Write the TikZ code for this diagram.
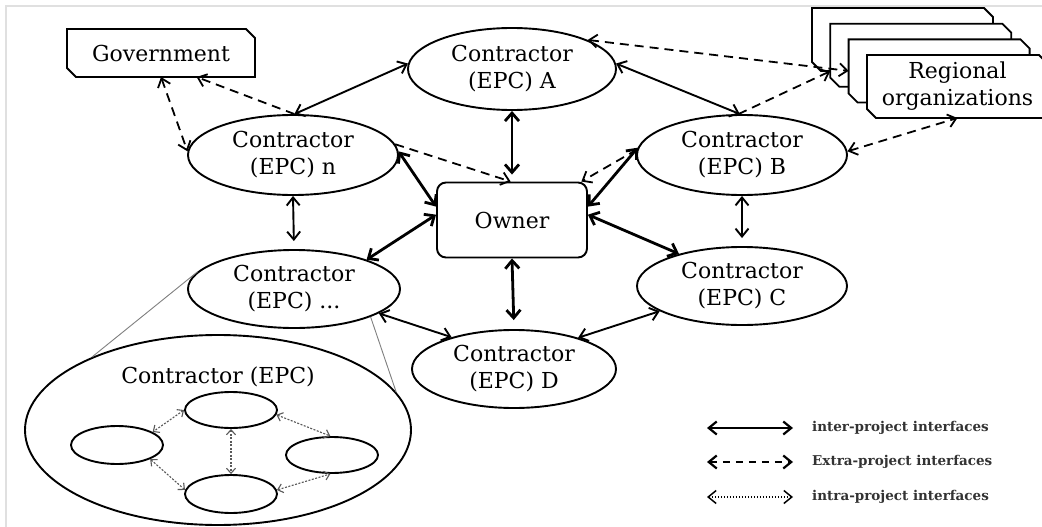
\documentclass[tikz,border=0pt]{standalone}
\usepackage{fontspec}
\setmainfont{DejaVu Serif}
\usetikzlibrary{arrows.meta,shapes.geometric}

% outline of a box with its top-right and bottom-left corners cut off
\newcommand\cutcornerbox[2][]{%
  \draw[line width=1.8pt,#1] (#2.north west) -- ([xshift=-9pt]#2.north east)
    -- ([yshift=-9pt]#2.north east) -- (#2.south east)
    -- ([xshift=9pt]#2.south west) -- ([yshift=9pt]#2.south west) -- cycle;}

\begin{document}
\begin{tikzpicture}[x=1pt,y=-1pt,
  font=\fontsize{22}{27}\selectfont,
  >={Straight Barb[length=8pt,width=13pt]},
  epc/.style={ellipse, draw, line width=1.9pt, inner sep=0pt, align=center},
  ownerbox/.style={rectangle, rounded corners=9pt, draw, line width=1.9pt,
    minimum width=150pt, minimum height=75pt, inner sep=0pt},
  orgbox/.style={rectangle, inner sep=0pt, outer sep=0pt, align=center},
  unit/.style={ellipse, draw, line width=1.9pt, inner sep=0pt, minimum width=92pt},
  inter/.style={line width=1.9pt, <->},
  interthick/.style={line width=2.8pt, <->, >={Straight Barb[length=8pt,width=14pt]}},
  extra/.style={line width=1.8pt, dash pattern=on 9pt off 6pt},
  intra/.style={line width=1.1pt, black!65, dash pattern=on 2pt off 1.5pt, <->,
    >={Straight Barb[length=5pt,width=9pt]}},
  zoomline/.style={line width=0.9pt, black!50},
  legtext/.style={anchor=west, inner sep=0pt, font=\fontsize{13.5}{16}\selectfont\bfseries, text=black!80},
  legarrow/.style={line width=2.2pt, <->, >={Straight Barb[length=8pt,width=13pt]}}
]
\useasboundingbox (0,0) rectangle (1042,527);
\fill[white] (0,0) rectangle (1042,527);
% thin frame along the top and left
\draw[black!12, line width=1.5pt] (6,527) -- (6,6) -- (1042,6);

% outside parties
\node[orgbox, minimum width=188pt, minimum height=48pt] (gov) at (161,53) {Government};
\cutcornerbox[fill=none]{gov}
\node[orgbox, minimum width=181pt, minimum height=63pt] (r4) at (902.5,39.5) {};
\cutcornerbox[fill=white]{r4}
\node[orgbox, minimum width=181pt, minimum height=63pt] (r3) at (920.8,55.2) {};
\cutcornerbox[fill=white]{r3}
\node[orgbox, minimum width=181pt, minimum height=63pt] (r2) at (939.1,70.9) {};
\cutcornerbox[fill=white]{r2}
\node[orgbox, minimum width=181pt, minimum height=63pt] (r1) at (957.5,86.5) {};
\cutcornerbox[fill=white]{r1}
\node[orgbox] (r1text) at (r1.center) {Regional\\organizations};

% contractors and owner
\node[epc, minimum width=208pt, minimum height=82pt] (epcA) at (512,69) {Contractor\\(EPC) A};
\node[epc, minimum width=210pt, minimum height=80pt] (epcN) at (293,155) {Contractor\\(EPC) n};
\node[epc, minimum width=210pt, minimum height=80pt] (epcB) at (742,155) {Contractor\\(EPC) B};
\node[ownerbox] (owner) at (512,220) {Owner};
\node[epc, minimum width=212pt, minimum height=78pt] (epcX) at (294,289) {Contractor\\(EPC) ...};
\node[epc, minimum width=210pt, minimum height=78pt] (epcC) at (742,286) {Contractor\\(EPC) C};
\node[epc, minimum width=204pt, minimum height=78pt] (epcD) at (514,369) {Contractor\\(EPC) D};

% detail of one contractor
\node[ellipse, draw, line width=1.9pt, minimum width=386pt, minimum height=190pt, inner sep=0pt] (detail) at (218,430) {};
\node[inner sep=0pt] (detailtitle) at (218,377) {Contractor (EPC)};
\node[unit, minimum height=36pt] (s1) at (231,410) {};
\node[unit, minimum height=38pt] (s2) at (117,445) {};
\node[unit, minimum height=36pt] (s3) at (332,455) {};
\node[unit, minimum height=38pt] (s4) at (231,494) {};
\draw[zoomline] (epcX.170) -- (detail.150);
\draw[zoomline] (epcX.-20) -- (detail.12);

% inter-project interfaces
\draw[inter] (epcA.177) -- (epcN.88);
\draw[inter] (epcA.3) -- (epcB.93);
\draw[inter, shorten >=8pt] (epcN.south) -- (epcX.north);
\draw[inter, shorten >=8pt] (epcB.south) -- (epcC.north);
\draw[inter] (epcX.-16) -- (epcD.153);
\draw[inter] (epcC.197) -- (epcD.26);
\draw[interthick, shorten >=7pt] (epcA.south) -- (owner.north);
\draw[interthick] (epcN.2) -- (owner.170);
\draw[interthick] (owner.176) -- (epcX.22);
\draw[interthick] (owner.10) -- (epcB.176);
\draw[interthick] (owner.4) -- (epcC.153);
\draw[interthick, shorten >=9pt] (owner.south) -- (epcD.north);

% extra-project interfaces
\draw[extra, <->] (gov.south) -- (epcN.178);
\draw[extra, ->] (epcN.88) -- (gov.-34);
\draw[extra, ->] (epcN.6) -- (owner.92);
\draw[extra, ->] (epcB.177) -- (owner.29);
\draw[extra, <->] (epcA.21) -- (r2.west);
\draw[extra, ->] (epcB.95) -- (r3.190);
\draw[extra, <->] (epcB.2) -- (r1.south);

% intra-project interfaces
\draw[intra] (s1.180) -- (s2.20);
\draw[intra] (s1.-6) -- (s3.95);
\draw[intra] (s1.south) -- (s4.north);
\draw[intra] (s2.-23) -- (s4.175);
\draw[intra] (s4.5) -- (s3.265);

% legend
\node[legtext] (leg1) at (812,428) {inter-project interfaces};
\node[legtext] (leg2) at (812,462) {Extra-project interfaces};
\node[legtext] (leg3) at (812,497) {intra-project interfaces};
\coordinate (l1a) at (707,428); \coordinate (l1b) at (793,428);
\coordinate (l2a) at (707,462); \coordinate (l2b) at (793,462);
\coordinate (l3a) at (707,497); \coordinate (l3b) at (793,497);
\draw[legarrow] (l1a) -- (l1b);
\draw[legarrow, dash pattern=on 7pt off 6pt] (l2a) -- (l2b);
\draw[legarrow, line width=1.5pt, dash pattern=on 1.5pt off 1.5pt] (l3a) -- (l3b);
\end{tikzpicture}
\end{document}
